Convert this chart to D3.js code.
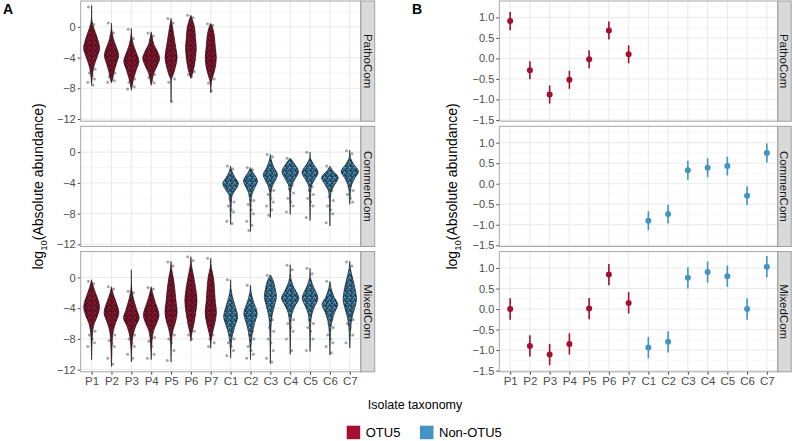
<!DOCTYPE html>
<html><head><meta charset="utf-8">
<script src="https://cdn.jsdelivr.net/npm/d3@7/dist/d3.min.js"></script>
<style>body{margin:0;background:#fff}svg{display:block;font-family:"Liberation Sans",Arial,sans-serif}</style>
</head><body><svg id="c" width="792" height="441"></svg>
<script>
// ---------------- DATA ----------------
const categories = ["P1","P2","P3","P4","P5","P6","P7","C1","C2","C3","C4","C5","C6","C7"];
const facets = ["PathoCom","CommenCom","MixedCom"];
const groupLabels = ["OTU5","Non-OTU5"];
const colors = ["#A50F30","#4393C3"];
const yTicksA = [0,-4,-8,-12];
const yMinorA = [2,-2,-6,-10];
const yTicksB = [1.0,0.5,0.0,-0.5,-1.0,-1.5];
const yMinorB = [1.25,0.75,0.25,-0.25,-0.75,-1.25];

// Panel A violins: knots [log10 value, relative density], tail points (log10 values)
const pathoViolins = [
 {cat:"P1",knots:[[2.8,0],[1,0.03],[0.3,0.12],[-0.5,0.35],[-1.5,0.65],[-2.8,0.9],[-3.8,0.65],[-5,0.3],[-6,0.12],[-7,0.04],[-7.6,0]],tail:[2.6,0.3,0.1,-5.5,-6.0,-6.3,-6.8,-7.2,-7.6]},
 {cat:"P2",knots:[[0.5,0],[-0.5,0.05],[-1.5,0.2],[-2.5,0.5],[-3.7,0.8],[-4.8,0.55],[-5.8,0.3],[-6.7,0.15],[-7.3,0]],tail:[0.5,-0.8,-1.2,-6.0,-6.5,-6.8,-7.0,-7.2]},
 {cat:"P3",knots:[[-0.2,0],[-1.2,0.05],[-2.2,0.2],[-3.2,0.5],[-4.5,0.85],[-5.6,0.55],[-6.8,0.25],[-7.6,0.1],[-8.25,0]],tail:[-0.3,-1.5,-2.0,-6.8,-7.2,-7.5,-7.8,-8.1]},
 {cat:"P4",knots:[[-0.65,0],[-1.3,0.1],[-2.3,0.3],[-3.2,0.7],[-4.1,0.95],[-5,0.7],[-6,0.3],[-7,0.1],[-7.6,0]],tail:[-0.8,-1.2,-1.7,-6.2,-6.6,-7.0,-7.3]},
 {cat:"P5",knots:[[1.1,0],[0.3,0.12],[-1,0.3],[-2.5,0.5],[-4,0.68],[-5.2,0.5],[-6.2,0.25],[-6.8,0.05],[-7.5,0.02],[-9.8,0]],tail:[1.1,0.5,-6.3,-6.8,-7.2,-9.7]},
 {cat:"P6",knots:[[1.5,0],[1.0,0.15],[0,0.4],[-1.5,0.52],[-2.7,0.6],[-4,0.52],[-5,0.4],[-6,0.2],[-6.7,0]],tail:[1.5,1.2,0.8,-5.8,-6.2,-6.5]},
 {cat:"P7",knots:[[0.45,0],[0,0.18],[-1,0.38],[-2.5,0.5],[-4,0.62],[-5.2,0.52],[-6.3,0.28],[-7,0.1],[-7.8,0.03],[-8.6,0]],tail:[0.4,0.2,-6.3,-6.8,-7.3,-8.3]}
];
const commenViolins = [
 {cat:"C1",knots:[[-1.8,0],[-2.5,0.15],[-3.3,0.5],[-4.1,0.88],[-4.9,0.55],[-5.6,0.18],[-6.5,0.08],[-7.5,0.05],[-8.5,0.03],[-9.4,0]],tail:[-1.8,-2.2,-6.0,-6.5,-7.0,-7.5,-7.8,-9.0,-9.3]},
 {cat:"C2",knots:[[-2,0],[-2.6,0.25],[-3.7,0.78],[-4.7,0.45],[-5.5,0.16],[-6.5,0.07],[-8,0.04],[-9.3,0.03],[-10.3,0]],tail:[-2.0,-2.3,-5.6,-6.3,-6.8,-7.5,-8.0,-9.0,-9.5,-10.2]},
 {cat:"C3",knots:[[-0.3,0],[-1.0,0.1],[-2.0,0.4],[-2.9,0.8],[-3.8,0.5],[-4.6,0.18],[-5.5,0.07],[-7,0.04],[-8.5,0]],tail:[-0.3,-0.6,-4.5,-5.0,-5.5,-6.0,-6.5,-7.0,-7.5,-8.2]},
 {cat:"C4",knots:[[-0.8,0],[-1.3,0.35],[-2.5,0.92],[-3.4,0.6],[-4.2,0.22],[-5,0.08],[-6.5,0.04],[-8.1,0]],tail:[-0.8,-4.3,-4.8,-5.3,-6.0,-6.5,-7.0,-7.8]},
 {cat:"C5",knots:[[0,0],[-0.8,0.05],[-1.5,0.35],[-2.6,0.9],[-3.5,0.55],[-4.3,0.18],[-5.5,0.07],[-7,0.03],[-8.9,0]],tail:[0,-4.5,-5.0,-5.5,-6.0,-6.5,-7.0,-8.5]},
 {cat:"C6",knots:[[-1.8,0],[-2.4,0.3],[-3.3,0.93],[-4.2,0.55],[-5,0.18],[-6,0.06],[-7.5,0.035],[-9.6,0]],tail:[-1.8,-5.0,-5.8,-6.3,-7.0,-7.5,-8.0,-9.2]},
 {cat:"C7",knots:[[0.26,0],[-0.8,0.1],[-1.5,0.4],[-2.5,0.97],[-3.3,0.6],[-4.2,0.22],[-5,0.09],[-6,0.04],[-6.8,0]],tail:[0.2,-0.2,-4.5,-5.0,-5.5,-6.0,-6.5]}
];
const mixedViolins = [
 {cat:"P1",knots:[[-0.3,0],[-1,0.15],[-2.2,0.5],[-3.2,0.8],[-4,0.88],[-5,0.65],[-6,0.3],[-7,0.12],[-8.5,0.05],[-10.7,0]],tail:[-0.5,-0.8,-6.5,-7.0,-7.5,-8.0,-8.5,-9.0]},
 {cat:"P2",knots:[[-1.2,0],[-2,0.15],[-3,0.45],[-4.6,0.83],[-5.8,0.5],[-7,0.2],[-8.5,0.08],[-10,0.04],[-11.6,0]],tail:[-1.2,-1.5,-7.0,-7.5,-8.2,-8.6,-9.0,-10.5,-11.3]},
 {cat:"P3",knots:[[1,0],[-1,0.02],[-2,0.1],[-3,0.3],[-4.2,0.6],[-5.3,0.88],[-6.3,0.5],[-7.5,0.2],[-9,0.06],[-11,0]],tail:[-1.8,-2.0,-2.5,-7.5,-8.0,-8.6,-9.0,-10.0,-10.5]},
 {cat:"P4",knots:[[-1.2,0],[-2,0.15],[-3.2,0.45],[-4.9,0.88],[-6,0.6],[-7,0.25],[-8.5,0.08],[-10.7,0]],tail:[-1.3,-1.5,-7.2,-7.8,-8.3,-9.0,-10.0,-10.5]},
 {cat:"P5",knots:[[2.1,0],[1,0.08],[0,0.25],[-1.5,0.42],[-3,0.55],[-4.6,0.68],[-5.8,0.5],[-7,0.2],[-8.5,0.05],[-11,0]],tail:[2.0,1.5,-7.0,-7.5,-8.0,-8.5,-9.5,-10.8]},
 {cat:"P6",knots:[[2.7,0],[1.5,0.08],[0.5,0.25],[-1,0.48],[-3,0.68],[-4.5,0.55],[-6,0.35],[-7.2,0.12],[-8.3,0]],tail:[2.7,2.2,-6.5,-7.0,-7.5,-8.0]},
 {cat:"P7",knots:[[2.5,0],[1.2,0.08],[0,0.3],[-1.5,0.42],[-3,0.5],[-4.6,0.63],[-6,0.45],[-7.2,0.2],[-8.2,0.05],[-9.2,0]],tail:[2.5,-7.5,-8.0,-8.5,-9.0]},
 {cat:"C1",knots:[[-0.3,0],[-1.5,0.05],[-2.5,0.2],[-3.7,0.5],[-5.1,0.78],[-6.3,0.5],[-7.5,0.2],[-9,0.05],[-10.5,0]],tail:[-0.3,-7.0,-7.5,-8.0,-8.5,-9.0,-9.5,-10.2]},
 {cat:"C2",knots:[[-1,0],[-2,0.08],[-3.2,0.35],[-4.65,0.75],[-6,0.45],[-7.3,0.2],[-9,0.05],[-10.7,0]],tail:[-1.0,-7.0,-7.5,-8.0,-9.0,-9.5,-10.0,-10.5]},
 {cat:"C3",knots:[[0.35,0],[-0.5,0.35],[-1.5,0.55],[-2.5,0.68],[-3.5,0.5],[-4.5,0.28],[-5.5,0.13],[-7,0.06],[-9,0.03],[-11.2,0]],tail:[0.3,-5.5,-6.5,-7.0,-8.0,-8.5,-9.5,-10.5,-11.0]},
 {cat:"C4",knots:[[1.65,0],[0.5,0.03],[-0.5,0.15],[-1.5,0.5],[-2.7,0.97],[-3.7,0.55],[-4.7,0.2],[-6,0.07],[-8,0.03],[-10,0]],tail:[1.6,1.0,-5.0,-5.5,-6.0,-6.5,-7.0,-8.0,-9.5]},
 {cat:"C5",knots:[[1.2,0],[0,0.05],[-1,0.3],[-2.7,0.88],[-3.8,0.5],[-4.8,0.2],[-6,0.07],[-8,0.03],[-9.65,0]],tail:[1.2,0.5,-5.5,-6.0,-6.5,-7.0,-8.0,-9.5]},
 {cat:"C6",knots:[[-0.5,0],[-1.5,0.15],[-2.5,0.45],[-3.5,0.88],[-4.5,0.55],[-5.8,0.2],[-7.5,0.06],[-10.1,0]],tail:[-0.5,-5.5,-6.0,-6.5,-7.5,-8.0,-8.5,-9.0,-9.8]},
 {cat:"C7",knots:[[2.1,0],[1,0.1],[0,0.3],[-1.5,0.6],[-2.9,0.75],[-4,0.55],[-5,0.3],[-6.5,0.1],[-8,0.04],[-9.2,0]],tail:[2.0,1.5,-5.0,-5.5,-6.0,-6.5,-7.5,-8.5]}
];

// Panel B: estimate and half-width of interval (log10)
const pathoCats = ["P1","P2","P3","P4","P5","P6","P7"];
const pathoMean = [0.91,-0.29,-0.88,-0.52,-0.02,0.68,0.10];
const pathoErr  = [0.22,0.22,0.22,0.22,0.22,0.22,0.22];
const commenCats = ["C1","C2","C3","C4","C5","C6","C7"];
const commenMean = [-0.90,-0.74,0.33,0.39,0.43,-0.29,0.75];
const commenErr  = [0.23,0.23,0.23,0.23,0.23,0.23,0.23];
const mixedCats = categories;
const mixedMean = [0.00,-0.90,-1.11,-0.85,0.01,0.84,0.15,-0.94,-0.80,0.76,0.90,0.80,0.00,1.03];
const mixedErr  = [0.26,0.26,0.26,0.26,0.26,0.26,0.26,0.26,0.26,0.26,0.26,0.26,0.26,0.26];

// ---------------- LAYOUT ----------------
const svg = d3.select("#c");
const panelTop = [1, 126.3, 251.6], panelH = 120.2;
const A = {left:80.7, right:360.7, strip:14};
const B = {left:499.3, right:777.7, strip:13.5};
const colorOf = c => c[0]==="P" ? colors[0] : colors[1];

const defs = svg.append("defs");
const pat = defs.append("pattern").attr("id","dots").attr("patternUnits","userSpaceOnUse")
  .attr("width",5).attr("height",5);
[[0.8,0.9,1.1,0.8],[3.1,1.6,1.0,0.7],[1.9,3.4,1.1,0.75],[4.3,4.2,0.9,0.6],[4.4,0.2,0.8,0.5],[0.3,4.6,0.8,0.5]].forEach(d=>{
  pat.append("circle").attr("cx",d[0]).attr("cy",d[1]).attr("r",d[2]).attr("fill","#151515").attr("fill-opacity",d[3]);
});

function drawFrame(P, yScale, ticks, minor, fmt, fi){
  const g = svg.append("g");
  const top = panelTop[fi];
  g.append("rect").attr("x",P.left).attr("y",top).attr("width",P.right-P.left).attr("height",panelH).attr("fill","#fff");
  g.selectAll(".mn").data(minor).join("line").attr("x1",P.left).attr("x2",P.right)
    .attr("y1",d=>yScale(d)).attr("y2",d=>yScale(d)).attr("stroke","#f2f2f2").attr("stroke-width",0.6);
  g.selectAll(".mj").data(ticks).join("line").attr("x1",P.left).attr("x2",P.right)
    .attr("y1",d=>yScale(d)).attr("y2",d=>yScale(d)).attr("stroke","#e6e6e6").attr("stroke-width",0.9);
  g.selectAll(".vx").data(categories).join("line").attr("x1",d=>P.x(d)).attr("x2",d=>P.x(d))
    .attr("y1",top).attr("y2",top+panelH).attr("stroke","#e6e6e6").attr("stroke-width",0.9);
  const ax = svg.append("g").attr("transform",`translate(${P.left},0)`)
    .call(d3.axisLeft(yScale).tickValues(ticks).tickSize(3).tickPadding(2).tickFormat(fmt));
  ax.select(".domain").remove();
  ax.selectAll("line").attr("stroke","#4d4d4d");
  ax.selectAll("text").attr("fill","#4d4d4d").style("font-size","11px").style("font-family","Liberation Sans, Arial");
  const s = svg.append("g");
  s.append("rect").attr("x",P.right).attr("y",top).attr("width",P.strip).attr("height",panelH)
    .attr("fill","#d9d9d9").attr("stroke","#9e9e9e").attr("stroke-width",1);
  s.append("text").attr("transform",`translate(${P.right+P.strip/2},${top+panelH/2}) rotate(90)`)
    .attr("text-anchor","middle").attr("dy","0.35em").attr("fill","#1a1a1a").style("font-size","11.5px").text(facets[fi]);
  return g;
}
function drawBorder(P, fi){
  svg.append("rect").attr("x",P.left).attr("y",panelTop[fi]).attr("width",P.right-P.left).attr("height",panelH)
    .attr("fill","none").attr("stroke","#a6a6a6").attr("stroke-width",1);
}

// ---- Panel A ----
A.x = d3.scalePoint().domain(categories).range([A.left,A.right]).padding(0.55);
const stepA = A.x.step(), halfA = 0.45*stepA;
const violinSets = [pathoViolins, commenViolins, mixedViolins];
const jit = [-3.2,2.1,-0.9,3.4,-2.3,0.6,2.9,-3.8,1.4,-1.6,3.8,-0.2];
violinSets.forEach((set,fi)=>{
  const y = d3.scaleLinear().domain([-12.28,3.37]).range([panelTop[fi]+panelH, panelTop[fi]]);
  const g = drawFrame(A, y, yTicksA, yMinorA, d3.format("d"), fi);
  set.forEach(v=>{
    const cx = A.x(v.cat);
    const area = d3.area().curve(d3.curveCatmullRom.alpha(0.5))
      .y(d=>y(d[0])).x0(d=>cx-d[1]*halfA).x1(d=>cx+d[1]*halfA);
    g.append("path").attr("d",area(v.knots)).attr("fill",colorOf(v.cat)).attr("stroke","#111").attr("stroke-width",0.6);
    g.append("path").attr("d",area(v.knots)).attr("fill","url(#dots)").attr("stroke","none");
    g.selectAll(null).data(v.tail).join("circle").attr("cx",(d,i)=>cx+jit[i%jit.length])
      .attr("cy",d=>y(d)).attr("r",1.5).attr("fill","#3a3a3a").attr("fill-opacity",0.45);
  });
  drawBorder(A, fi);
});
const axA = svg.append("g").attr("transform",`translate(0,${panelTop[2]+panelH})`)
  .call(d3.axisBottom(A.x).tickSize(3).tickPadding(2));
axA.select(".domain").remove();
axA.selectAll("line").attr("stroke","#4d4d4d");
axA.selectAll("text").attr("fill","#4d4d4d").style("font-size","11.5px");

// ---- Panel B ----
B.x = d3.scalePoint().domain(categories).range([B.left,B.right]).padding(0.55);
const bSets = [[pathoCats,pathoMean,pathoErr],[commenCats,commenMean,commenErr],[mixedCats,mixedMean,mixedErr]];
bSets.forEach(([cats,mean,err],fi)=>{
  const y = d3.scaleLinear().domain([-1.53,1.40]).range([panelTop[fi]+panelH, panelTop[fi]]);
  const g = drawFrame(B, y, yTicksB, yMinorB, d3.format(".1f"), fi);
  g.selectAll(null).data(cats).join("line").attr("x1",d=>B.x(d)).attr("x2",d=>B.x(d))
    .attr("y1",(d,i)=>y(mean[i]-err[i])).attr("y2",(d,i)=>y(mean[i]+err[i]))
    .attr("stroke",d=>colorOf(d)).attr("stroke-width",1.6);
  g.selectAll(null).data(cats).join("circle").attr("cx",d=>B.x(d)).attr("cy",(d,i)=>y(mean[i]))
    .attr("r",3).attr("fill",d=>colorOf(d));
  drawBorder(B, fi);
});
const axB = svg.append("g").attr("transform",`translate(0,${panelTop[2]+panelH})`)
  .call(d3.axisBottom(B.x).tickSize(3).tickPadding(2));
axB.select(".domain").remove();
axB.selectAll("line").attr("stroke","#4d4d4d");
axB.selectAll("text").attr("fill","#4d4d4d").style("font-size","11.5px");

// ---- Titles ----
function yLabel(x){
  const t = svg.append("text").attr("transform",`translate(${x},${(panelTop[0]+panelTop[2]+panelH)/2}) rotate(-90)`)
    .attr("text-anchor","middle").attr("fill","#000").style("font-size","14px");
  t.append("tspan").text("log");
  t.append("tspan").attr("dy",4).style("font-size","9.5px").text("10");
  t.append("tspan").attr("dy",-4).text("(Absolute abundance)");
}
yLabel(43);
yLabel(457);
svg.append("text").attr("x",3).attr("y",14).style("font-size","14px").style("font-weight","bold").text("A");
svg.append("text").attr("x",412).attr("y",13.5).style("font-size","14px").style("font-weight","bold").text("B");
svg.append("text").attr("x",415).attr("y",409).attr("text-anchor","middle").style("font-size","12.5px").text("Isolate taxonomy");

const legX = [346.7, 420];
groupLabels.forEach((lab,i)=>{
  svg.append("rect").attr("x",legX[i]).attr("y",425.7).attr("width",13.5).attr("height",13.5).attr("fill",colors[i]);
  svg.append("text").attr("x",legX[i]+19).attr("y",437.2).style("font-size","13px").text(lab);
});
</script></body></html>
